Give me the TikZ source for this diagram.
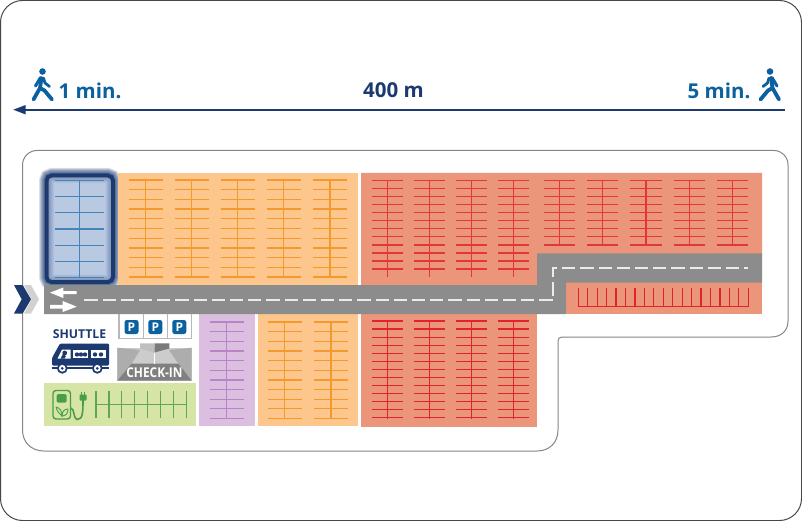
\documentclass[tikz,border=0pt]{standalone}
\usepackage{fontspec}
\setmainfont{Open Sans}
\definecolor{navy}{HTML}{1C3A70}
\definecolor{iconblue}{HTML}{0B609F}
\definecolor{roadgray}{HTML}{8C8C8C}
\definecolor{bluefill}{HTML}{B9C9E2}
\definecolor{blueline}{HTML}{4584B8}
\definecolor{orangefill}{HTML}{FCC68C}
\definecolor{orangeline}{HTML}{F49A2C}
\definecolor{redfill}{HTML}{EB967A}
\definecolor{redline}{HTML}{E2363A}
\definecolor{redstrong}{HTML}{E0242A}
\definecolor{purplefill}{HTML}{DCBFE0}
\definecolor{purpleline}{HTML}{B784C8}
\definecolor{greenfill}{HTML}{D6E4A6}
\definecolor{greenline}{HTML}{5EA650}
\definecolor{icongreen}{HTML}{4A9E46}
\tikzset{
  frameline/.style={draw=black!72,line width=1pt},
  siteline/.style={draw=black!48,line width=1pt},
  stall/.style={line width=1.2pt,line cap=butt},
  roadfill/.style={fill=roadgray,draw=none},
  roadmark/.style={draw=white!92!black,line width=1.7pt,dash pattern=on 13.2pt off 5pt},
  walker/.style={draw=iconblue,line width=3.8pt,line cap=round,line join=round},
  distline/.style={draw=navy,line width=2pt},
  disttext/.style={font=\fontsize{20.5}{24}\selectfont\bfseries,anchor=base,inner sep=0pt},
  psign/.style={fill=iconblue,rounded corners=2.4pt,minimum size=14pt,inner sep=0pt,text=white,font=\fontsize{12}{14}\selectfont\bfseries},
}
% #1 colour, #2 half width, #3 list of centres, #4 first y, #5 second y, #6 last y
\newcommand{\stallrows}[6]{%
  \foreach \cx in {#3}{%
    \foreach \yy in {#4,#5,...,#6}{%
      \draw[stall,#1] (\cx-#2,\yy) -- (\cx+#2,\yy);
    }
    \draw[stall,#1] (\cx,#4) -- (\cx,#6);
  }%
}
\newcommand{\walkfigure}{%
  \fill[iconblue] (0,-13.5) circle (3.3);
  \draw[walker] (-1,-7) -- (-2.5,3) -- (-9,14.5);
  \draw[walker] (-2.5,3) -- (2,5.5) -- (9.5,14.5);
  \draw[walker,line width=3pt] (-2,-7.5) -- (-7,1);
  \draw[walker,line width=2.8pt] (1,-7) -- (2.5,-2) -- (7,1.5);
}
\begin{document}
\begin{tikzpicture}[x=1pt,y=-1pt]
\useasboundingbox (0,0) rectangle (802,521);
\fill[white] (0,0) rectangle (802,521);
\draw[frameline,rounded corners=22pt] (0.5,0.5) rectangle (801.5,520.5);

% distance scale
\coordinate (scaleL) at (24,109.7);
\coordinate (scaleR) at (785,109.7);
\draw[distline] (scaleL) -- (scaleR);
\fill[navy] (13.3,109.7) -- (25.7,105) -- (25.7,114.5) -- cycle;
\node[disttext,text=iconblue] (t1) at (90,99) {1 min.};
\node[disttext,text=navy] (t2) at (393.5,98) {400 m};
\node[disttext,text=iconblue] (t3) at (719,99) {5 min.};
\begin{scope}[shift={(42.5,85)}] \walkfigure \end{scope}
\begin{scope}[shift={(770,85)},xscale=-1] \walkfigure \end{scope}

% site outline
\draw[siteline] (22.5,165) .. controls (22.5,157) and (29,150.5) .. (37,150.5)
  -- (774,150.5) .. controls (782,150.5) and (788,157) .. (788,165)
  -- (788,321) .. controls (788,331) and (781,337) .. (771,337)
  -- (562,337) .. controls (559.5,337) and (558,338.5) .. (558,341)
  -- (558,430) .. controls (558,443) and (549,451) .. (537,451)
  -- (44,451) .. controls (31,451) and (22.5,442) .. (22.5,430) -- cycle;

% blue block glow
\foreach \w in {15,14,13,12,11,10,9,8,7,6}{
  \draw[navy,opacity=.065,line width=\w pt,rounded corners=5pt] (46.5,175.5) rectangle (113,282);
}
\fill[bluefill,rounded corners=5pt] (46.5,175.5) rectangle (113,282);
\foreach \w in {15,13.5,12,10.5,9,7.5,6}{
  \draw[navy,opacity=.05,line width=\w pt,rounded corners=5pt] (46.5,175.5) rectangle (113,282);
}
\foreach \yy in {180.3,196.5,...,277.5}{
  \draw[stall,blueline] (55,\yy) -- (104,\yy);
}
\draw[stall,blueline] (79.5,180.3) -- (79.5,277.3);
\draw[navy,line width=4pt,rounded corners=5pt] (46.5,175.5) rectangle (113,282);

% coloured blocks
\fill[orangefill] (118,173) rectangle (357.5,285);
\stallrows{orangeline}{17}{145.5,191.5,237.5,283.5,330}{180}{189.7}{277.5}
\fill[redfill] (361,173) -- (762,173) -- (762,254) -- (537,254) -- (537,285) -- (361,285) -- cycle;
\stallrows{redline}{15.6}{387.7,429.7,471.7,513.7}{180.5}{188.55}{277}
\stallrows{redline}{15.6}{559.3,602.7,646,689.3,732.7}{180.5}{188.55}{245.5}
\fill[purplefill] (198.7,314) rectangle (255.3,426);
\stallrows{purpleline}{17}{226.7}{322}{331.65}{419}
\fill[orangefill] (258.3,314) rectangle (358.3,426);
\stallrows{orangeline}{17}{284.5,331}{322}{331.65}{419}
\fill[redfill] (361,314) rectangle (537,426.5);
\stallrows{redstrong}{15.6}{387.7,429.7,471.7,513.7}{321}{329.06}{418.5}
\fill[redfill] (566,282) rectangle (762,314);
\draw[stall,redstrong] (578.3,306.7) -- (748,306.7);
\foreach \i in {0,...,18}{
  \draw[stall,redstrong] ({578.3+\i*9.44},288.3) -- ({578.3+\i*9.44},306.7);
}
\fill[greenfill] (44,383) rectangle (196,426);
\draw[stall,greenline] (96,404.3) -- (186.5,404.3);
\foreach \i in {0,...,7}{
  \draw[stall,greenline] ({96+\i*12.93},390.7) -- ({96+\i*12.93},418);
}

% road
\path[roadfill] (44,285) -- (537,285) -- (537,253.3) -- (762,253.3) -- (762,282.7) -- (566,282.7) -- (566,314) -- (44,314) -- cycle;
\draw[roadmark] (84.3,299.7) -- (553.3,299.7) -- (553.3,268) -- (748,268);
\fill[white] (50,292.7) -- (63.3,287.5) -- (63.3,291.2) -- (76.7,291.2) -- (76.7,294.2) -- (63.3,294.2) -- (63.3,298) -- cycle;
\fill[white] (76.7,306.7) -- (62.7,301) -- (62.7,304.9) -- (50,304.9) -- (50,308.5) -- (62.7,308.5) -- (62.7,312) -- cycle;

% entrance chevrons
\fill[black!18] (24,285) -- (31,285) -- (39,299.3) -- (31,313.5) -- (24,313.5) -- (31.5,299.3) -- cycle;
\fill[navy] (14,285) -- (22.7,285) -- (31,299.3) -- (22.7,313.5) -- (14,313.5) -- (21.7,299.3) -- cycle;

% parking signs
\draw[black!28,line width=1.3pt] (119,314) -- (119,338.8) -- (191.5,338.8) -- (191.5,314);
\draw[black!28,line width=1.3pt] (143.3,314) -- (143.3,338.8);
\draw[black!28,line width=1.3pt] (167.3,314) -- (167.3,338.8);
\node[psign] (p1) at (131.5,327) {P};
\node[psign] (p2) at (155.3,327) {P};
\node[psign] (p3) at (179.3,327) {P};

% check-in
\fill[black!20] (117.3,347.7) rectangle (191.7,380.7);
\fill[black!32] (117.3,347.7) -- (140,350) -- (131.7,363.5) -- (117.3,380.7) -- cycle;
\fill[black!32] (191.7,347.7) -- (169,350) -- (178.3,363.5) -- (191.7,380.7) -- cycle;
\fill[black!50] (131.7,363.5) -- (178.3,363.5) -- (191.7,380.7) -- (117.3,380.7) -- cycle;
\fill[black!25] (140,343.3) -- (154.5,343.3) -- (154.5,352.5) -- (140,348.5) -- cycle;
\fill[black!52] (154.5,343.3) -- (169.3,343.3) -- (169.3,348.5) -- (154.5,352.5) -- cycle;
\draw[white,line width=1.4pt] (154.5,352.5) -- (154.5,363.5);
\node[font=\fontsize{13.5}{15}\selectfont\bfseries,text=white,inner sep=0pt,xscale=.88] (checkin) at (154.5,372.3) {CHECK-IN};

% shuttle
\node[font=\fontsize{12.2}{14}\selectfont\bfseries,text=navy,inner sep=0pt] (shuttle) at (79.5,334.5) {SHUTTLE};
\fill[navy,rounded corners=1.2pt] (60,343.5) -- (109,343.5) -- (109,365.5) -- (52,365.5) -- (52,358) -- cycle;
\fill[navy] (51.5,366.5) rectangle (109,368.7);
\fill[white] (62,349.5) -- (70.5,349.5) -- (70.5,358.5) -- (57.5,358.5) -- cycle;
\fill[navy] (64.7,353) circle (2.4);
\fill[navy] (60.5,358.5) -- (63,354) -- (66,356) -- (64.5,358.5) -- cycle;
\fill[white] (73.3,349.5) rectangle (88.3,358);
\fill[white] (91,349.5) rectangle (105.7,358);
\foreach \px in {77,81,85,95,101}{ \fill[navy] (\px,354.5) circle (2.2); }
\foreach \wx in {62.3,97.3}{
  \fill[navy] (\wx,368.3) circle (5.4);
  \fill[white] (\wx,368.3) circle (3.4);
  \fill[navy] (\wx,368.3) circle (1.5);
}

% charger
\draw[icongreen,line width=1.4pt,rounded corners=3pt] (53,419) -- (53,390.5) -- (70.5,390.5) -- (70.5,419) -- cycle;
\fill[icongreen,rounded corners=1.5pt] (56.7,394) rectangle (66.7,402.7);
\draw[icongreen,line width=.9pt] (56,407) .. controls (57,412) and (60,414) .. (62,416) .. controls (62,411) and (60,408) .. (56,407);
\draw[icongreen,line width=.9pt] (68,409) .. controls (64,409) and (62,412) .. (62,416) .. controls (66,416) and (68,413) .. (68,409);
\draw[icongreen,line width=1.6pt] (70.5,408) .. controls (75,408) and (73,419) .. (77,419.5) .. controls (83,420) and (83,411) .. (83,400);
\fill[icongreen,rounded corners=.8pt] (79.5,394.5) rectangle (86.5,400.5);
\draw[icongreen,line width=1.1pt] (81.2,394.5) -- (81.2,391.5);
\draw[icongreen,line width=1.1pt] (84.8,394.5) -- (84.8,391.5);
\end{tikzpicture}
\end{document}
